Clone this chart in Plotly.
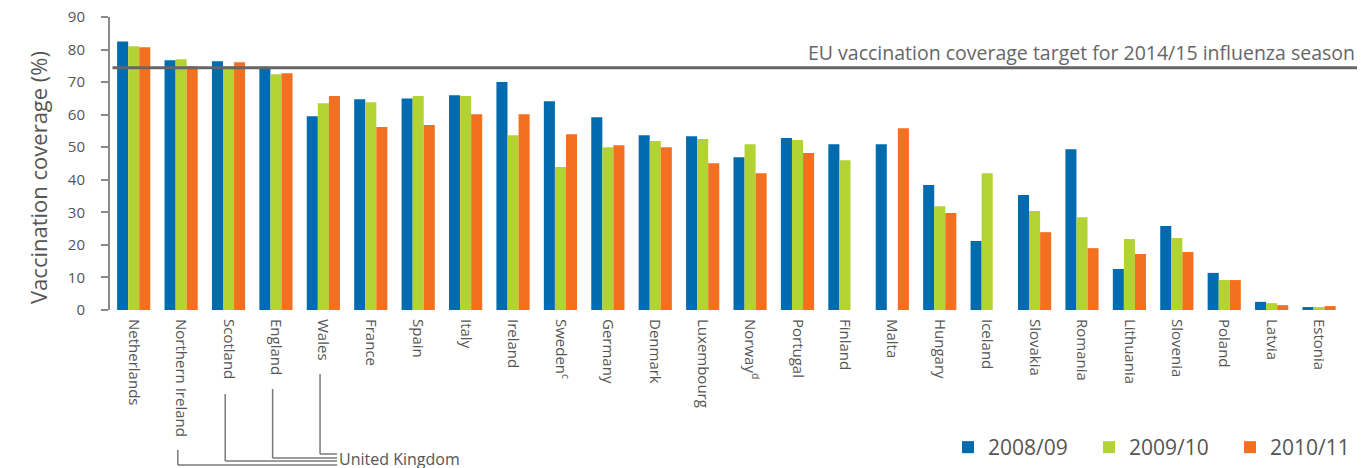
import plotly.graph_objects as go

countries = ["Netherlands", "Northern Ireland", "Scotland", "England", "Wales", "France", "Spain",
             "Italy", "Ireland", "Sweden<sup>c</sup>", "Germany", "Denmark", "Luxembourg",
             "Norway<sup>d</sup>", "Portugal", "Finland", "Malta", "Hungary", "Iceland", "Slovakia",
             "Romania", "Lithuania", "Slovenia", "Poland", "Latvia", "Estonia"]

s2008 = [82.5, 76.7, 76.4, 74.7, 59.5, 64.7, 65.0, 66.0, 70.0, 64.1, 59.2, 53.7, 53.4,
         46.9, 52.8, 50.9, 50.9, 38.4, 21.2, 35.3, 49.4, 12.6, 25.8, 11.4, 2.5, 0.9]
s2009 = [81.0, 77.0, 74.9, 72.4, 63.5, 63.8, 65.7, 65.7, 53.7, 43.9, 50.0, 51.9, 52.5,
         50.9, 52.2, 46.0, None, 31.9, 42.0, 30.4, 28.5, 21.8, 22.1, 9.2, 2.1, 0.9]
s2010 = [80.7, 74.9, 76.1, 72.7, 65.7, 56.2, 56.8, 60.1, 60.1, 54.0, 50.6, 50.0, 45.1,
         42.0, 48.2, None, 55.8, 29.8, None, 23.9, 19.0, 17.2, 17.8, 9.2, 1.5, 1.2]

seasons = ["2008/09", "2009/10", "2010/11"]
target = 74.4
target_label = "EU vaccination coverage target for 2014/15 influenza season"
y_ticks = [0, 10, 20, 30, 40, 50, 60, 70, 80, 90]

colors = ["#006BAE", "#B3D234", "#F37021"]
FONT = "Open Sans"
GRAY = "#555555"

xs = list(range(len(countries)))
fig = go.Figure()
for name, vals, c in zip(seasons, [s2008, s2009, s2010], colors):
    fig.add_trace(go.Bar(x=xs, y=vals, name=name, marker=dict(color=c, line=dict(width=0))))

# page coordinates of the plot area in the screenshot; the page body adds an 8px offset
OFF = 8
PL, PR, PT, PB = 110, 1357, 17, 310
W, H = 1370, 468
L, T = PL - OFF, PT - OFF
R = W - (PR - OFF)
B = H - (PB - OFF)
plot_w = PR - PL
plot_h = PB - PT
UNIT = plot_w / 26.3


def px_x(p):
    return (p - PL) / plot_w


def px_y(p):
    return (PB - p) / plot_h


fig.update_layout(
    width=W, height=H,
    margin=dict(l=L, r=R, t=T, b=B, autoexpand=False),
    plot_bgcolor="white", paper_bgcolor="white",
    barmode="group", bargap=0.3, bargroupgap=0,
    font=dict(family=FONT, color=GRAY, size=14),
    legend=dict(orientation="h", x=px_x(948), xanchor="left", y=px_y(427), yanchor="top",
                font=dict(size=21, color=GRAY), entrywidth=96, entrywidthmode="pixels",
                traceorder="normal", itemsizing="constant"),
    showlegend=True,
)
fig.update_xaxes(
    range=[-0.5, 25.8], tickmode="array", tickvals=xs, ticktext=countries,
    tickangle=90, showline=False, showgrid=False, zeroline=False, ticks="",
    tickfont=dict(size=15, color=GRAY, family=FONT), ticklabelstandoff=8, automargin=False,
)
fig.update_yaxes(
    range=[0, 90], tickvals=y_ticks, showgrid=False, zeroline=False,
    showline=True, linecolor="#8a8a8a", linewidth=2, ticks="outside", ticklen=7,
    tickwidth=2, tickcolor="#8a8a8a", tickfont=dict(size=15, color=GRAY, family=FONT),
    ticklabelstandoff=13, automargin=False, ticklabeloverflow="allow",
)

# target line
fig.add_shape(type="line", xref="paper", yref="y", x0=0.002, x1=1, y0=target, y1=target,
              line=dict(color="#666666", width=3))
fig.add_annotation(xref="paper", yref="y", x=1, y=target, xanchor="right", yanchor="bottom",
                   text=target_label, showarrow=False, yshift=0,
                   font=dict(size=19.5, color="#666666", family=FONT))

fig.add_annotation(xref="paper", yref="paper", x=px_x(21), y=px_y(178), textangle=-90,
                   text="Vaccination coverage (%)", showarrow=False,
                   font=dict(size=22, color=GRAY, family=FONT))

# United Kingdom bracket
uk = [(1, 450, 465), (2, 394, 461), (3, 389, 458), (4, 374, 454)]
x_end = 337
for idx, ytop, ybot in uk:
    xc = idx - 0.07
    fig.add_shape(type="line", xref="x", yref="paper", x0=xc, x1=xc, y0=px_y(ytop), y1=px_y(ybot),
                  line=dict(color="#7a7a7a", width=1.5))
    fig.add_shape(type="line", xref="x", yref="paper", x0=xc, x1=(x_end - PL) / UNIT - 0.5,
                  y0=px_y(ybot), y1=px_y(ybot), line=dict(color="#7a7a7a", width=1.5))
fig.add_annotation(xref="paper", yref="paper", x=px_x(337), y=px_y(459), xanchor="left",
                   yanchor="middle", text="United Kingdom", showarrow=False,
                   font=dict(size=16, color=GRAY, family=FONT))

fig.write_html("out.html")
